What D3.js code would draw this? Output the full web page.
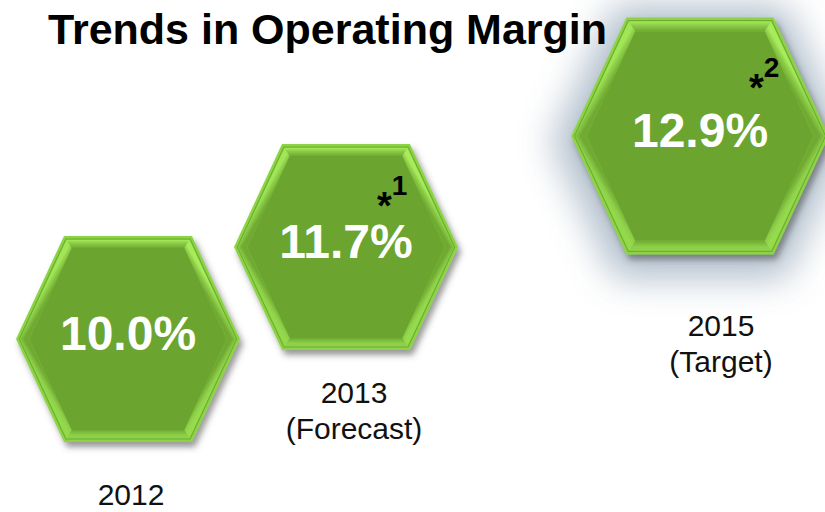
<!DOCTYPE html>
<html>
<head>
<meta charset="utf-8">
<script src="https://cdn.jsdelivr.net/npm/d3@7"></script>
<style>
  body { margin: 0; background: #fff; }
  text { font-family: "Liberation Sans", Arial, sans-serif; }
</style>
</head>
<body>
<svg id="chart"></svg>
<script>
const width = 825;
const height = 512;

// data
const years = [2012, 2013, 2015];
const notes = ["", "(Forecast)", "(Target)"];
const margins = [10.0, 11.7, 12.9];
const footnotes = ["", "1", "2"];
const isTarget = [false, false, true];

const items = years.map((y, i) => ({
  year: y, note: notes[i], value: margins[i], foot: footnotes[i], target: isTarget[i]
}));

const svg = d3.select('#chart')
    .attr('width', width).attr('height', height);

// scales (the slide steps up unevenly, so these are piecewise)
const x = d3.scaleLinear().domain(years).range([128, 346, 700]);
const y = d3.scaleLinear().domain(margins).range([339, 247, 136]);
const labelX = d3.scaleLinear().domain(years).range([131, 354, 721]);
const labelY = d3.scaleLinear().domain(margins).range([505, 403, 336]);
const size = d => d.target ? 1.15 : 1;

const defs = svg.append('defs');

const shadow = defs.append('filter').attr('id', 'shadow')
    .attr('x', '-20%').attr('y', '-20%').attr('width', '140%').attr('height', '140%');
shadow.append('feDropShadow')
    .attr('dx', 3).attr('dy', 5).attr('stdDeviation', 3)
    .attr('flood-color', '#444').attr('flood-opacity', 0.55);

const glow = defs.append('filter').attr('id', 'glow')
    .attr('x', '-50%').attr('y', '-50%').attr('width', '200%').attr('height', '200%');
glow.append('feGaussianBlur').attr('stdDeviation', 18);

function hexPoints(s) {
  const hw = 112 * s, hh = 103 * s, e = 64 * s;
  return [[-hw, 0], [-e, -hh], [e, -hh], [hw, 0], [e, hh], [-e, hh]];
}

// move every edge of a convex polygon (centred on 0,0) inwards by d
function inset(pts, d) {
  const n = pts.length;
  const lines = pts.map((p, i) => {
    const q = pts[(i + 1) % n];
    const dx = q[0] - p[0], dy = q[1] - p[1];
    const len = Math.hypot(dx, dy);
    let nx = -dy / len, ny = dx / len;
    if (nx * -p[0] + ny * -p[1] < 0) { nx = -nx; ny = -ny; }
    return { p: [p[0] + nx * d, p[1] + ny * d], d: [dx, dy] };
  });
  const cross = (a, b) => a[0] * b[1] - a[1] * b[0];
  return lines.map((l, i) => {
    const k = lines[(i - 1 + n) % n];
    const t = cross([l.p[0] - k.p[0], l.p[1] - k.p[1]], l.d) / cross(k.d, l.d);
    return [k.p[0] + t * k.d[0], k.p[1] + t * k.d[1]];
  });
}

const line = pts => 'M' + pts.map(p => p.join(',')).join('L') + 'Z';

// light colour at the outer edge of each bevel facet (left, top-left, top, ...)
const facetLight = ['#a2e657', '#a6ea5a', '#a8ec5c', '#96da4e', '#8fd049', '#94d84c'];

const hexes = svg.selectAll('.hex')
  .data(items)
  .enter().append('g')
    .attr('class', 'hex')
    .attr('transform', d => `translate(${x(d.year)},${y(d.value)})`);

hexes.filter(d => d.target).append('path')
    .attr('d', d => line(hexPoints(size(d) * 1.15)))
    .attr('transform', 'translate(0,6)')
    .style('fill', '#a3b3c2')
    .style('opacity', 0.85)
    .attr('filter', 'url(#glow)');

hexes.append('path')
    .attr('d', d => line(hexPoints(size(d))))
    .style('fill', '#8cd444')
    .attr('filter', 'url(#shadow)');

hexes.append('path')
    .attr('d', d => line(inset(hexPoints(size(d)), 3)))
    .style('fill', 'none')
    .style('stroke', '#6fae31')
    .style('stroke-width', 1.2);

hexes.each(function (d, i) {
  const g = d3.select(this);
  const s = size(d);
  const outer = inset(hexPoints(s), 4);
  const inner = inset(hexPoints(s), 12 * s);
  outer.forEach((p, k) => {
    const q = outer[(k + 1) % 6];
    const pi = inner[k], qi = inner[(k + 1) % 6];
    const id = `bevel-${i}-${k}`;
    const grad = defs.append('linearGradient').attr('id', id)
        .attr('gradientUnits', 'userSpaceOnUse')
        .attr('x1', (p[0] + q[0]) / 2).attr('y1', (p[1] + q[1]) / 2)
        .attr('x2', (pi[0] + qi[0]) / 2).attr('y2', (pi[1] + qi[1]) / 2);
    grad.append('stop').attr('offset', 0).attr('stop-color', facetLight[k]);
    grad.append('stop').attr('offset', 0.35).attr('stop-color', '#8ed04a');
    grad.append('stop').attr('offset', 1).attr('stop-color', '#70aa32');
    g.append('path')
        .attr('d', line([p, q, qi, pi]))
        .style('fill', `url(#${id})`);
  });
  g.append('path')
      .attr('d', line(inner))
      .style('fill', '#6ba530');
});

// value, with the footnote mark kept in the same text element
const values = hexes.append('text')
    .attr('text-anchor', 'middle')
    .attr('y', 11)
    .style('font-weight', 'bold');
values.append('tspan')
    .style('font-size', '48px')
    .style('fill', '#fff')
    .text(d => d3.format('.1f')(d.value) + '%');
values.filter(d => d.foot).append('tspan')
    .attr('x', d => 31 + (size(d) - 1) * 120)
    .attr('y', d => -28 - (size(d) - 1) * 47)
    .style('text-anchor', 'start')
    .style('font-size', '38px')
    .style('fill', '#000')
    .text('*');
values.filter(d => d.foot).append('tspan')
    .attr('dy', -24)
    .style('font-size', '28px')
    .style('fill', '#000')
    .text(d => d.foot);

const labels = svg.selectAll('.label')
  .data(items)
  .enter().append('text')
    .attr('class', 'label')
    .attr('text-anchor', 'middle')
    .attr('x', d => labelX(d.year))
    .attr('y', d => labelY(d.value))
    .style('font-size', '30px')
    .style('fill', '#111');
labels.append('tspan')
    .text(d => d.year);
labels.filter(d => d.note).append('tspan')
    .attr('x', d => labelX(d.year))
    .attr('dy', 36)
    .text(d => d.note);

svg.append('text')
    .attr('x', 48)
    .attr('y', 44)
    .style('font-size', '43px')
    .style('font-weight', 'bold')
    .style('fill', '#000')
    .text('Trends in Operating Margin');
</script>
</body>
</html>
